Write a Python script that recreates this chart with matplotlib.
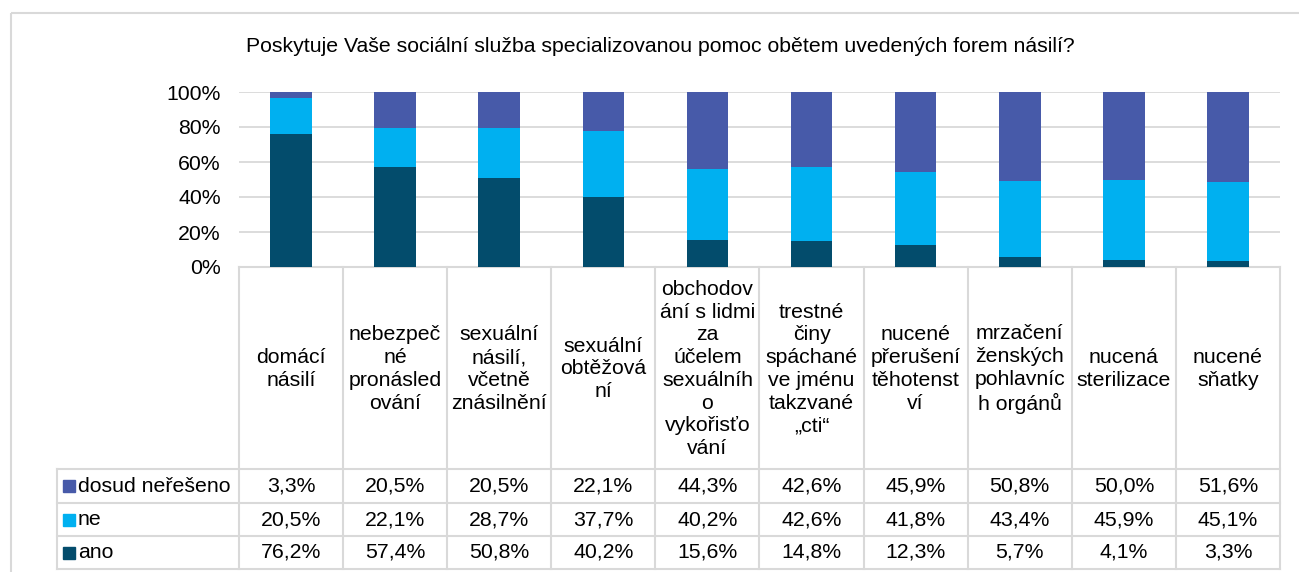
import matplotlib.pyplot as plt
from matplotlib.patches import Rectangle

plt.rcParams['font.family'] = ['Liberation Sans', 'DejaVu Sans']

title = 'Poskytuje Vaše sociální služba specializovanou pomoc obětem uvedených forem násilí?'
categories = [
    'domácí\nnásilí',
    'nebezpeč\nné\npronásled\nování',
    'sexuální\nnásilí,\nvčetně\nznásilnění',
    'sexuální\nobtěžová\nní',
    'obchodov\nání s lidmi\nza\núčelem\nsexuálníh\no\nvykořisťo\nvání',
    'trestné\nčiny\nspáchané\nve jménu\ntakzvané\n„cti“',
    'nucené\npřerušení\ntěhotenst\nví',
    'mrzačení\nženských\npohlavníc\nh orgánů',
    'nucená\nsterilizace',
    'nucené\nsňatky',
]
ano = [76.2, 57.4, 50.8, 40.2, 15.6, 14.8, 12.3, 5.7, 4.1, 3.3]
ne = [20.5, 22.1, 28.7, 37.7, 40.2, 42.6, 41.8, 43.4, 45.9, 45.1]
dosud = [3.3, 20.5, 20.5, 22.1, 44.3, 42.6, 45.9, 50.8, 50.0, 51.6]
series = [('dosud neřešeno', dosud, '#475aa9'),
          ('ne', ne, '#00b0f0'),
          ('ano', ano, '#034c6c')]

FS = 15.3
W, H = 1299, 572
fig = plt.figure(figsize=(W / 100, H / 100), dpi=100)

# pixel-space overlay for frame, title and data table
bg = fig.add_axes([0, 0, 1, 1])
bg.set_xlim(0, W)
bg.set_ylim(H, 0)
bg.axis('off')

# plot area in pixels
px0, px1, py0, py1 = 239, 1280, 92, 267
ax = fig.add_axes([px0 / W, 1 - py1 / H, (px1 - px0) / W, (py1 - py0) / H])
n = len(categories)
x = list(range(n))
bottom = [0] * n
for name, vals, col in series[::-1]:
    frac = [v / 100 for v in vals]
    ax.bar(x, frac, 0.4, bottom=bottom, color=col, zorder=3)
    bottom = [b + f for b, f in zip(bottom, frac)]
ax.set_xlim(-0.5, n - 0.5)
ax.set_ylim(0, 1)
ax.set_yticks([0, 0.2, 0.4, 0.6, 0.8, 1.0])
ax.set_yticklabels(['0%', '20%', '40%', '60%', '80%', '100%'], fontsize=FS)
ax.yaxis.grid(True, color='#d9d9d9', linewidth=1.3, zorder=0)
ax.tick_params(length=0, pad=13)
ax.set_xticks([])
for s in ax.spines.values():
    s.set_visible(False)
ax.patch.set_alpha(0)

# chart frame
bg.add_patch(Rectangle((11, 13), 1300, 580, fill=False, edgecolor='#d9d9d9', linewidth=1.5))
bg.text(660, 47, title, fontsize=FS, ha='center', va='center')

# table
gc = '#d9d9d9'
colw = (px1 - px0) / n
row_y = [py1, 469, 503, 536, 569]
lx = 57
bg.plot([px0, px1], [py1, py1], color=gc, lw=1.5)
for y in row_y[1:]:
    bg.plot([lx, px1], [y, y], color=gc, lw=1.5)
for i in range(n + 1):
    xx = px0 + i * colw
    bg.plot([xx, xx], [py1, row_y[-1]], color=gc, lw=1.5)
bg.plot([lx, lx], [row_y[1], row_y[-1]], color=gc, lw=1.5)

for i, c in enumerate(categories):
    bg.text(px0 + (i + 0.5) * colw, (row_y[0] + row_y[1]) / 2 + 1, c, fontsize=FS,
            ha='center', va='center', linespacing=1.25)

for r, (name, vals, col) in enumerate(series):
    yc = (row_y[r + 1] + row_y[r + 2]) / 2
    bg.add_patch(Rectangle((63, yc - 6), 12, 12, color=col))
    bg.text(78, yc, name, fontsize=FS, ha='left', va='center')
    for i, v in enumerate(vals):
        bg.text(px0 + (i + 0.5) * colw, yc, f'{v:.1f}%'.replace('.', ','),
                fontsize=FS, ha='center', va='center')

fig.savefig('out.png', dpi=100)
